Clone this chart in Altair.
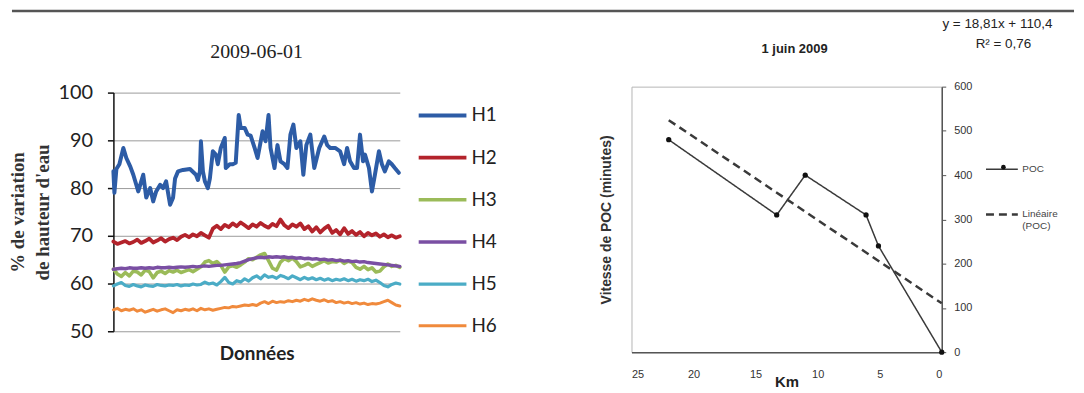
import altair as alt
import pandas as pd

# ---------------- Left panel data ----------------
SERIES = ["H1", "H2", "H3", "H4", "H5", "H6"]
COLORS = ["#2D5CA6", "#B3232B", "#9BBB59", "#7A4FA3", "#4BACC6", "#F08A3C"]

H1_x = [0, 1, 3, 6, 10, 13, 17, 20, 25, 28, 30, 33, 37, 40, 43, 47, 50, 53, 57, 60,
        62, 65, 70, 77, 83, 85, 87, 88, 90, 92, 95, 97, 100, 103, 105, 108, 112, 113, 117, 120,
        123, 126, 128, 132, 135, 138, 142, 145, 150, 153, 156, 158, 162, 165, 168, 172, 175, 178, 181, 184,
        188, 191, 194, 198, 202, 207, 212, 215, 218, 223, 228, 232, 235, 238, 242, 245, 248, 251, 253, 257,
        260, 263, 267, 270, 273, 277, 280, 283, 287]
H1_y = [83.5, 79, 84, 85, 88.4, 86.3, 84.5, 82.8, 79.3, 81.4, 82.8, 78, 80, 77.2, 79.3, 80.7, 80, 81.4, 76.5, 78,
        82, 83.5, 83.8, 84, 82.8, 81.7, 83.5, 89.8, 83.5, 81.4, 80, 82, 87.7, 87, 85, 88.4, 90.5, 84.2, 85, 85,
        85.3, 95.3, 92.6, 92.6, 91.2, 91, 88.4, 86.3, 91.9, 89.8, 95.3, 88.4, 84.2, 89, 85.6, 85, 84.2, 91.2, 93.3, 88.4,
        89.8, 82.8, 89, 91.2, 84.2, 88.4, 90.8, 89, 88.4, 88.4, 87.7, 85, 88.4, 85.6, 84.2, 84.2, 91.2, 85.6, 87, 84.2,
        79.3, 82.8, 87.7, 85, 83.5, 85.6, 85, 84.2, 83.2]

IDX = list(range(0, 289, 4))
H2 = [68.8, 68.3, 68.6, 68.9, 68.4, 68.7, 69.2, 68.5, 68.9, 69.4, 68.6, 69.0, 69.5, 68.8, 69.3,
      69.6, 69.1, 69.8, 70.2, 69.7, 70.3, 69.9,
      70.6, 70.1, 69.6, 71.5, 72.1,
      71.4, 72.3, 71.8, 72.6, 72.0, 72.8, 72.2, 71.6,
      72.4, 71.9, 72.7, 72.1, 71.7, 72.5, 72.0, 73.4,
      72.2, 71.6, 72.4, 71.9, 72.6, 71.4, 72.0, 70.9,
      71.8, 70.7, 71.5, 72.1, 70.6, 71.2, 70.3, 71.6,
      70.4, 71.0, 70.2, 70.8, 69.9, 70.6, 70.1, 70.5,
      69.8, 70.3, 69.7, 70.1, 69.6, 69.9]
H3 = [63.0, 62.0, 61.5, 62.3, 61.6, 62.6, 62.4, 61.8, 62.8, 62.5, 61.2, 62.3, 62.6, 62.1, 62.7,
      62.4, 62.8, 62.3, 62.6, 62.9, 62.5, 63.0,
      63.5, 64.5, 64.8, 64.2, 64.6,
      63.8, 62.4, 63.5, 63.7, 63.4, 63.9, 64.5, 65.2,
      65.0, 65.5, 66.0, 66.3, 64.8, 63.2, 62.8, 64.5,
      65.2, 64.8, 65.3, 64.6, 63.5, 63.8, 64.2, 63.6,
      64.0, 64.4, 64.8, 64.3, 64.6, 64.5, 64.9, 64.2,
      64.7, 64.4, 63.4, 63.0, 63.6, 62.9, 63.3, 62.4,
      62.6, 63.5, 64.1, 63.6, 63.8, 63.4]
H4 = [63.0, 63.1, 63.2, 63.1, 63.3, 63.2, 63.2, 63.3, 63.2, 63.3, 63.2, 63.4, 63.3, 63.3, 63.4,
      63.3, 63.4, 63.5, 63.4, 63.5, 63.6, 63.5,
      63.6, 63.7, 63.6, 63.7, 63.8,
      63.8, 63.9, 64.0, 64.1, 64.2, 64.4, 64.7, 65.0,
      65.2, 65.4, 65.5, 65.4, 65.6, 65.5, 65.6, 65.5,
      65.6, 65.4, 65.5, 65.3, 65.4, 65.2, 65.3, 65.1,
      65.2, 65.0, 65.1, 64.9, 65.0, 64.8, 64.9, 64.7,
      64.8, 64.6, 64.7, 64.5, 64.6, 64.4, 64.3, 64.2,
      64.1, 64.0, 63.9, 63.8, 63.7, 63.6]
H5 = [59.5, 59.9, 60.2, 59.6, 59.4, 59.8, 59.5, 59.3, 59.7, 59.5, 59.4, 59.8, 59.6, 59.5, 59.7,
      59.6, 59.8, 59.5, 59.7, 59.6, 59.9, 59.7,
      59.8, 60.3, 59.9, 60.1, 59.7,
      60.4, 61.3, 60.2, 59.9, 60.6, 60.3, 61.0, 60.5,
      61.2, 61.6, 61.0, 61.8, 61.3, 61.5, 61.1, 61.7,
      61.4, 61.0, 61.6, 61.2, 60.8, 61.3, 60.9, 61.2,
      60.8, 61.1, 60.7, 61.0, 60.6, 60.9, 60.7, 61.0,
      60.6, 60.9, 60.5, 60.8, 60.6, 60.9, 60.4, 60.7,
      60.2, 59.6, 59.3, 59.8, 60.1, 59.9]
H6 = [54.5, 54.8, 54.3, 54.6, 54.4, 54.7, 54.2, 54.5, 54.0, 54.3, 54.6, 54.2, 54.5, 54.7, 54.3,
      53.9, 54.5, 54.3, 54.6, 54.4, 54.7, 54.3,
      54.8, 54.5, 54.7, 54.4, 54.6,
      54.8, 55.0, 54.9, 55.2, 55.1, 55.3, 55.5, 55.4,
      55.6, 55.4, 55.9, 56.2, 55.8, 56.3, 56.0, 56.2,
      56.1, 56.4, 56.2, 56.5, 56.3, 56.7, 56.4, 56.8,
      56.5, 56.3, 56.6, 56.2, 56.4, 56.0, 56.2, 55.9,
      56.1, 55.8, 56.0, 55.7, 55.9, 55.6, 55.8, 55.7,
      55.9, 56.2, 56.5, 56.0, 55.5, 55.3]

Y_TICKS_LEFT = [50, 60, 70, 80, 90, 100]
LEFT_TITLE = "2009-06-01"

# ---------------- Right panel data ----------------
KM = [22, 13.3, 11, 6.1, 5.1, 0]
POC = [480, 310, 400, 310, 240, 0]
TREND_KM = [22, 0]
TREND_VAL = [524.2, 110.4]
X_TICKS_RIGHT = [0, 5, 10, 15, 20, 25]
Y_TICKS_RIGHT = [0, 100, 200, 300, 400, 500, 600]
EQ_LINES = ["y = 18,81x + 110,4", "R² = 0,76"]
RIGHT_TITLE = "1 juin 2009"
RIGHT_SERIES = ["POC", "Linéaire (POC)"]

# ---------------- build tables ----------------
rows = [{"idx": i, "val": v, "serie": "H1"} for i, v in zip(H1_x, H1_y)]
for name, vals in zip(SERIES[1:], [H2, H3, H4, H5, H6]):
    rows += [{"idx": i, "val": v, "serie": name} for i, v in zip(IDX, vals)]
left_df = pd.DataFrame(rows)

rrows = [{"km": k, "v": p, "s": RIGHT_SERIES[0]} for k, p in zip(KM, POC)]
rrows += [{"km": k, "v": p, "s": RIGHT_SERIES[1]} for k, p in zip(TREND_KM, TREND_VAL)]
right_df = pd.DataFrame(rrows)

# ---------------- left chart ----------------
lines = alt.Chart(left_df).mark_line(strokeJoin="round", strokeCap="round").encode(
    x=alt.X("idx:Q", scale=alt.Scale(domain=[0, 288], nice=False, zero=False),
            axis=alt.Axis(labels=False, ticks=False, domain=False, grid=False,
                          title="Données", titleFont="Lato", titleFontSize=19,
                          titleFontWeight="bold", titleColor="#222", titlePadding=13)),
    y=alt.Y("val:Q", scale=alt.Scale(domain=[50, 100], range=[246, 6], nice=False, zero=False),
            axis=alt.Axis(values=Y_TICKS_LEFT, grid=True, gridColor="#9a9a9a", gridWidth=1,
                          domainColor="#111", domainWidth=1.5, tickColor="#111", tickSize=6,
                          tickWidth=1.5,
                          labelFont="Lato", labelFontSize=20, labelColor="#222", labelPadding=15,
                          title=["% de variation", "de hauteur d'eau"],
                          titleFont="Liberation Serif", titleFontSize=19, titleFontWeight="bold",
                          titleColor="#333", titleLineHeight=26, titlePadding=5)),
    color=alt.Color("serie:N", scale=alt.Scale(domain=SERIES, range=COLORS),
                    legend=alt.Legend(title=None, orient="none", legendX=305, legendY=3,
                                      symbolType="stroke", symbolSize=2304, symbolStrokeWidth=3,
                                      labelFont="Lato", labelFontSize=19, labelColor="#222",
                                      rowPadding=6.4, labelOffset=3)),
    strokeWidth=alt.StrokeWidth("serie:N", scale=alt.Scale(domain=SERIES, range=[4, 3, 3, 3, 3, 3]),
                                legend=None),
    order="idx:Q",
)

top_rule = alt.Chart(pd.DataFrame({"k": [0]})).mark_rule(color="#555", strokeWidth=2.5).encode(
    x=alt.value(-102), x2=alt.value(966), y=alt.value(-76)
)

left_title = alt.Chart(pd.DataFrame({"t": [LEFT_TITLE]})).mark_text(
    font="Liberation Serif", fontSize=20, color="#222", align="center", baseline="middle").encode(
    text="t:N", x=alt.value(144), y=alt.value(-35))

left = alt.layer(lines, top_rule, left_title).properties(width=288, height=246)

# ---------------- right chart ----------------
xr = alt.X("km:Q", scale=alt.Scale(domain=[0, 25], reverse=True, nice=False),
           axis=alt.Axis(values=X_TICKS_RIGHT, ticks=False, grid=False, domainColor="#555",
                         domainWidth=1.5, labelFont="Liberation Sans", labelFontSize=11,
                         labelColor="#333", labelPadding=16, title="Km",
                         titleFont="Liberation Sans", titleFontSize=15, titleFontWeight="bold",
                         titleColor="#222", titleBaseline="middle", titleY=30))
yscale = alt.Scale(domain=[0, 600], nice=False)

LEG = dict(title=None, orient="none", legendX=355, legendY=66,
           symbolType="stroke", symbolSize=1024, symbolStrokeWidth=2,
           labelFont="Liberation Sans", labelFontSize=10, labelColor="#444",
           rowPadding=23, labelOffset=3,
           labelExpr="datum.label == 'Linéaire (POC)' ? ['Linéaire', '(POC)'] : datum.label")

poc_lines = alt.Chart(right_df).mark_line().encode(
    x=xr,
    y=alt.Y("v:Q", scale=yscale,
            axis=alt.Axis(orient="right", values=Y_TICKS_RIGHT, grid=False, domainColor="#555",
                          domainWidth=1.5, tickColor="#555", tickSize=4,
                          labelFont="Liberation Sans", labelFontSize=11, labelColor="#333",
                          labelPadding=8, title=None)),
    color=alt.Color("s:N", scale=alt.Scale(domain=RIGHT_SERIES, range=["#3a3a3a", "#3a3a3a"]),
                    legend=alt.Legend(**LEG)),
    strokeDash=alt.StrokeDash("s:N", scale=alt.Scale(domain=RIGHT_SERIES, range=[[1, 0], [8, 5]]),
                              legend=alt.Legend(**LEG)),
    strokeWidth=alt.StrokeWidth("s:N", scale=alt.Scale(domain=RIGHT_SERIES, range=[1.5, 2.5]),
                                legend=None),
)

poc_points = alt.Chart(right_df).transform_filter(alt.datum.s == "POC").mark_point(
    size=28, filled=True, color="#111", opacity=1).encode(
    x=xr,
    y=alt.Y("v:Q", scale=yscale,
            axis=alt.Axis(orient="left", labels=False, ticks=False, domain=False, grid=False,
                          title="Vitesse de POC (minutes)", titleFont="Liberation Sans",
                          titleFontSize=14, titleFontWeight="bold", titleColor="#333",
                          titlePadding=18)),
    shape=alt.Shape("s:N", scale=alt.Scale(domain=["POC"], range=["circle"]),
                    legend=alt.Legend(title=None, orient="none", legendX=369, legendY=76,
                                      symbolSize=22, symbolFillColor="#222", symbolStrokeColor="#222",
                                      symbolStrokeWidth=0, labelExpr="''", labelFontSize=10)),
)

eq_df = pd.DataFrame({"t": EQ_LINES, "line": [0, 1]})
eq1 = alt.Chart(eq_df).transform_filter(alt.datum.line == 0).mark_text(
    font="Liberation Sans", fontSize=13.5, color="#222", align="center", baseline="middle").encode(
    text="t:N", x=alt.value(368), y=alt.value(-63))
eq2 = alt.Chart(eq_df).transform_filter(alt.datum.line == 1).mark_text(
    font="Liberation Sans", fontSize=13.5, color="#222", align="center", baseline="middle").encode(
    text="t:N", x=alt.value(374), y=alt.value(-43))

right_title = alt.Chart(pd.DataFrame({"t": [RIGHT_TITLE]})).mark_text(
    font="Liberation Sans", fontSize=13, fontWeight="bold", color="#222", align="center",
    baseline="middle").encode(text="t:N", x=alt.value(164), y=alt.value(-38))

right = alt.layer(poc_lines, poc_points, eq1, eq2, right_title).resolve_axis(y="independent").properties(
    width=312, height=267,
    view=alt.ViewBackground(stroke="#b5b5b5", strokeWidth=1),
)

chart = alt.hconcat(left, right, spacing=233, bounds="flush", padding=0).resolve_scale(
    color="independent", strokeDash="independent", strokeWidth="independent", shape="independent"
).configure_view(stroke=None)

chart.save("out.html", embed_options={"renderer": "svg", "actions": False})
